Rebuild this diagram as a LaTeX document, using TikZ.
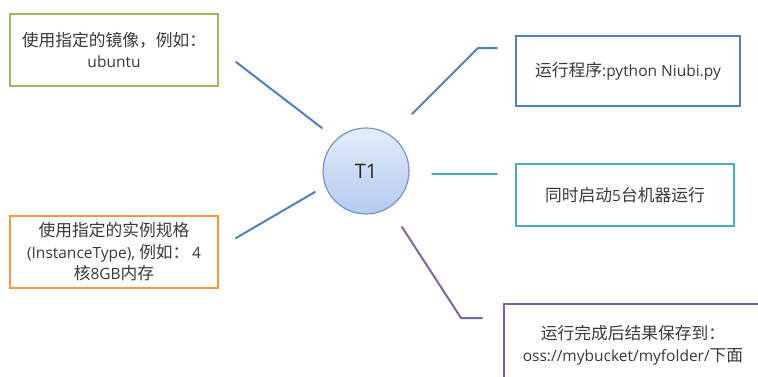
\documentclass[tikz,border=0pt]{standalone}
\usepackage{fontspec}
\setmainfont{Open Sans}
\newfontfamily\cjk[Scale=1.08]{Noto Sans CJK SC}
\definecolor{cgreen}{HTML}{9BBB59}
\definecolor{corange}{HTML}{F79646}
\definecolor{cblue}{HTML}{4F81BD}
\definecolor{caqua}{HTML}{4BACC6}
\definecolor{cpurple}{HTML}{8064A2}
\definecolor{txt}{HTML}{3A3A3A}
\definecolor{ctop}{HTML}{E4EDFB}
\definecolor{cbot}{HTML}{B3CAF0}
\definecolor{cborder}{HTML}{6F98D0}
\begin{document}
\begin{tikzpicture}[x=1pt,y=-1pt,
  box/.style={draw, line width=2pt, fill=white, align=center, text=txt,
    font=\fontsize{15.5}{21.5}\selectfont, inner sep=0pt},
  conn/.style={line width=2pt, line cap=round}]
\useasboundingbox (0,0) rectangle (758,376);
\clip (0,0) rectangle (758,376);
\node[box, draw=cgreen, minimum width=208pt, minimum height=72pt] (img) at (114,50)
  {{\cjk 使用指定的镜像，例如：}\\ubuntu};
\node[box, draw=corange, minimum width=208pt, minimum height=72pt] (inst) at (114,252)
  {{\cjk 使用指定的实例规格}\\(InstanceType), {\cjk 例如：}\,4\\{\cjk 核}8GB{\cjk 内存}};
\node[box, draw=cblue, minimum width=224pt, minimum height=70pt] (run) at (628,71)
  {{\cjk 运行程序}:python Niubi.py};
\node[box, draw=caqua, minimum width=218pt, minimum height=62pt] (multi) at (625,195)
  {{\cjk 同时启动}5{\cjk 台机器运行}};
\node[box, draw=cpurple, minimum width=258pt, minimum height=82pt] (save) at (633,345)
  {{\cjk 运行完成后结果保存到：}\\oss://mybucket/myfolder/{\cjk 下面}};
\node[circle, draw=cborder, line width=1.2pt, top color=ctop, bottom color=cbot,
  minimum size=86pt, text=black!85, font=\fontsize{20}{22}\selectfont] (t1) at (366,171) {T1};
\coordinate (a1) at (236,62);   \coordinate (a2) at (322,128);
\coordinate (b1) at (236,238);  \coordinate (b2) at (315,192);
\coordinate (c1) at (412,114);  \coordinate (c2) at (478,48);  \coordinate (c3) at (497,48);
\coordinate (d1) at (432,174);  \coordinate (d2) at (497,174);
\coordinate (e1) at (402,227);  \coordinate (e2) at (461,318); \coordinate (e3) at (482,318);
\draw[conn, cblue] (a1) -- (a2);
\draw[conn, cblue] (b1) -- (b2);
\draw[conn, cblue] (c1) -- (c2) -- (c3);
\draw[conn, caqua] (d1) -- (d2);
\draw[conn, cpurple] (e1) -- (e2) -- (e3);
\end{tikzpicture}
\end{document}
